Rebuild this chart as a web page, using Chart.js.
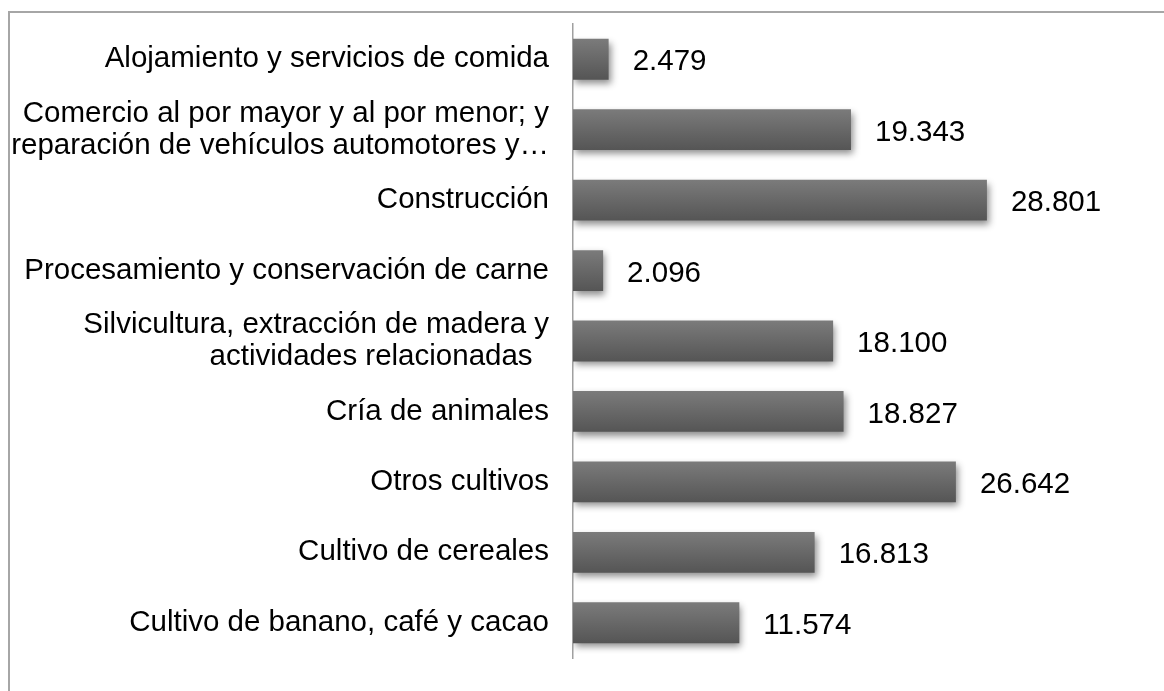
<!DOCTYPE html>
<html lang="es">
<head>
<meta charset="utf-8">
<title>Ocupados por actividad</title>
<script src="https://cdn.jsdelivr.net/npm/chart.js@4/dist/chart.umd.min.js"></script>
<style>
  html, body { margin: 0; padding: 0; background: #fff; overflow: hidden; }
  #wrap { position: relative; width: 1164px; height: 691px; }
  /* thin grey frame, only left and top edges fall inside the window */
  #frame {
    position: absolute; left: 8px; top: 11px;
    width: 1300px; height: 900px;
    border: 2px solid #a6a6a6; box-sizing: border-box;
  }
  #chart { position: absolute; left: 0; top: 0; }
</style>
</head>
<body>
<div id="wrap">
  <div id="frame"></div>
  <canvas id="chart" width="1164" height="691"></canvas>
</div>
<script>
/* ------------------------------------------------------------------
   DATA — categories top to bottom, values as printed on the labels
   ------------------------------------------------------------------ */
var categories = [
  'Alojamiento y servicios de comida',
  ['Comercio al por mayor y al por menor; y', 'reparación de vehículos automotores y…'],
  'Construcción',
  'Procesamiento y conservación de carne',
  ['Silvicultura, extracción de madera y', 'actividades relacionadas  '],
  'Cría de animales',
  'Otros cultivos',
  'Cultivo de cereales',
  'Cultivo de banano, café y cacao'
];
var values = [2479, 19343, 28801, 2096, 18100, 18827, 26642, 16813, 11574];

var FONT = "'Liberation Sans', Arial, sans-serif";

// 28801 -> "28.801"
function fmt(v) {
  return String(v).replace(/\B(?=(\d{3})+(?!\d))/g, '.');
}

// vertical grey gradient per bar, built from the category scale
function barFill(ctx) {
  var chart = ctx.chart;
  var y = chart.scales.y;
  if (!y || ctx.dataIndex === undefined) return '#666';
  var c = y.getPixelForValue(ctx.dataIndex);
  var half = y.height / categories.length * 0.58 / 2;
  if (!isFinite(c) || !isFinite(half) || half <= 0) return '#666';
  var g = chart.ctx.createLinearGradient(0, c - half, 0, c + half);
  g.addColorStop(0, '#7b7b7b');
  g.addColorStop(1, '#555555');
  return g;
}

// soft drop shadow under the bars
var barShadow = {
  id: 'barShadow',
  beforeDatasetsDraw: function (chart) {
    var c = chart.ctx;
    c.save();
    c.shadowColor = 'rgba(0,0,0,0.45)';
    c.shadowBlur = 7;
    c.shadowOffsetX = 2;
    c.shadowOffsetY = 4;
  },
  afterDatasetsDraw: function (chart) {
    chart.ctx.restore();
  }
};

// value labels right of each bar
var valueLabels = {
  id: 'valueLabels',
  afterDatasetsDraw: function (chart) {
    var c = chart.ctx;
    var meta = chart.getDatasetMeta(0);
    c.save();
    c.font = '29.5px ' + FONT;
    c.fillStyle = '#000';
    c.textAlign = 'left';
    c.textBaseline = 'middle';
    meta.data.forEach(function (bar, i) {
      c.fillText(fmt(values[i]), bar.x + 24, bar.y + 3);
    });
    c.restore();
  }
};

new Chart(document.getElementById('chart'), {
  type: 'bar',
  data: {
    labels: categories,
    datasets: [{
      data: values,
      backgroundColor: barFill,
      borderWidth: 0,
      barPercentage: 0.58,
      categoryPercentage: 1
    }]
  },
  options: {
    indexAxis: 'y',
    responsive: false,
    animation: false,
    events: [],
    layout: { padding: { top: 24, bottom: 33, left: 0, right: 88 } },
    scales: {
      x: {
        display: false,
        min: 0,
        max: 35000
      },
      y: {
        grid: { display: false, drawTicks: false },
        border: { display: true, color: '#a0a0a0', width: 1.5 },
        ticks: {
          color: '#000',
          padding: 24,
          font: { family: FONT, size: 29.5, lineHeight: 1.1 }
        },
        afterFit: function (scale) {
          scale.width = 573;
          scale.paddingTop = 0;
          scale.paddingBottom = 0;
        }
      }
    },
    plugins: {
      legend: { display: false },
      tooltip: { enabled: false }
    }
  },
  plugins: [barShadow, valueLabels]
});
</script>
</body>
</html>
